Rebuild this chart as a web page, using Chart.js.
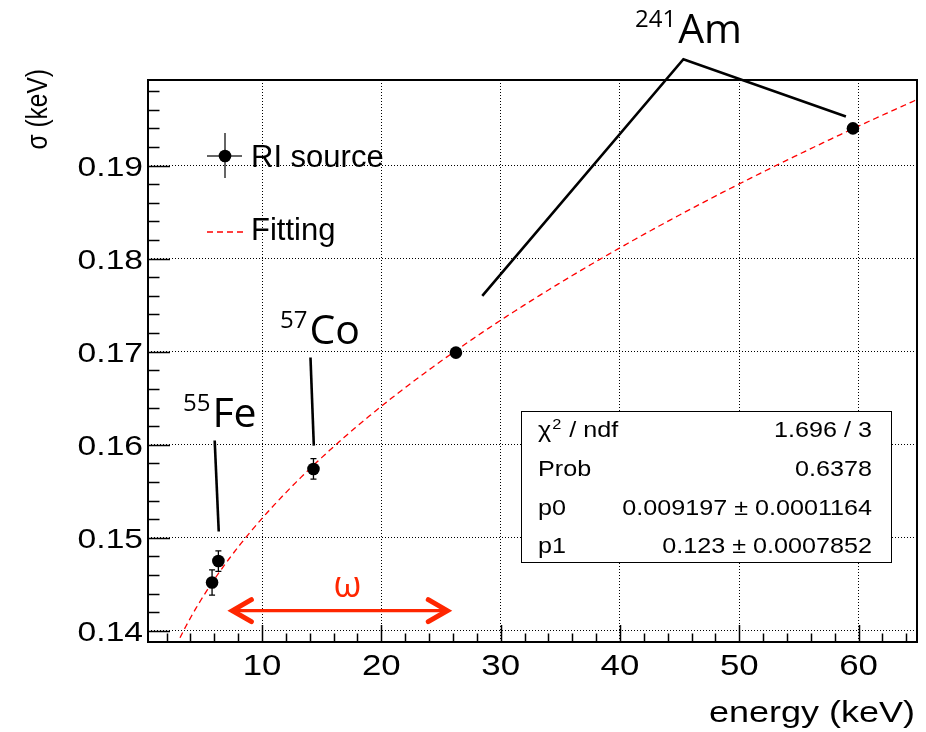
<!DOCTYPE html>
<html>
<head>
<meta charset="utf-8">
<title>Energy resolution</title>
<script src="https://cdn.jsdelivr.net/npm/chart.js@4.4.1/dist/chart.umd.min.js"></script>
<style>
    html, body { margin: 0; padding: 0; background: #ffffff; }
    canvas { display: block; }
</style>
</head>
<body>
<canvas id="resolutionChart" width="926" height="732"></canvas>
<script>
// Energy resolution (sigma) vs. X-ray energy for the RI sources

const energies = [5.81, 6.34, 14.31, 26.25, 59.53];          // keV
const sigmas = [0.1452, 0.1475, 0.1574, 0.1699, 0.1940];     // keV
const sigmaErrors = [0.00136, 0.0011, 0.0011, 0.0003, 0.0003];

const xTicks = [10, 20, 30, 40, 50, 60];
const yTicks = [0.14, 0.15, 0.16, 0.17, 0.18, 0.19];
const xRange = [0.44, 64.9];
const yRange = [0.1388, 0.1992];

// fit result, sigma = p0 * sqrt(E) + p1
const fitP0 = 0.009197;
const fitP0Err = 0.0001164;
const fitP1 = 0.123;
const fitP1Err = 0.0007852;
const fitChi2 = 1.696;
const fitNdf = 3;
const fitProb = 0.6378;

// leader lines for the source labels, in (keV, keV) units
const feLeader = [[6.03, 0.16045], [6.37, 0.15068]];
const coLeader = [[14.06, 0.16938], [14.34, 0.15991]];
const amLeader = [[28.46, 0.17599], [45.32, 0.20144], [58.94, 0.19528]];
const omegaRange = [7.43, 25.61];
const omegaLevel = 0.14217;

const ROOT_FONT = '"Liberation Sans", Arial, Helvetica, sans-serif';
const LABEL_FONT = '"Open Sans", "Noto Sans", sans-serif';
const STRETCH = 1.2;

document.addEventListener('DOMContentLoaded', function() {
    const ctx = document.getElementById('resolutionChart').getContext('2d');

    const fitCurve = [];
    for (let e = xRange[0]; e <= xRange[1] + 0.01; e += 0.2) {
        fitCurve.push({ x: e, y: fitP0 * Math.sqrt(e) + fitP1 });
    }

    const points = energies.map((e, i) => ({ x: e, y: sigmas[i] }));

    // text drawn with a horizontal stretch, returns its width
    function stretchText(c, text, x, y, font, align, sx) {
        c.save();
        c.font = font;
        c.textAlign = align;
        c.textBaseline = 'alphabetic';
        c.translate(x, y);
        c.scale(sx, 1);
        c.fillText(text, 0, 0);
        const w = c.measureText(text).width * sx;
        c.restore();
        return w;
    }

    function polyline(c, scales, pts) {
        c.beginPath();
        pts.forEach((p, i) => {
            const px = scales.x.getPixelForValue(p[0]);
            const py = scales.y.getPixelForValue(p[1]);
            if (i === 0) c.moveTo(px, py); else c.lineTo(px, py);
        });
        c.stroke();
    }

    function isotope(c, mass, symbol, x, baseline) {
        c.save();
        c.fillStyle = '#000';
        c.textBaseline = 'alphabetic';
        c.textAlign = 'left';
        c.font = '24px ' + LABEL_FONT;
        c.fillText(mass, x, baseline - 16);
        const w = c.measureText(mass).width;
        c.font = '41px ' + LABEL_FONT;
        c.fillText(symbol, x + w + 2, baseline);
        c.restore();
    }

    const errorBars = {
        id: 'errorBars',
        afterDatasetsDraw(chart) {
            const c = chart.ctx;
            const { x, y } = chart.scales;
            c.save();
            c.strokeStyle = '#000';
            c.lineWidth = 1.3;
            energies.forEach((e, i) => {
                const px = x.getPixelForValue(e);
                const top = y.getPixelForValue(sigmas[i] + sigmaErrors[i]);
                const bot = y.getPixelForValue(sigmas[i] - sigmaErrors[i]);
                c.beginPath();
                c.moveTo(px, top); c.lineTo(px, bot);
                c.moveTo(px - 3, top); c.lineTo(px + 3, top);
                c.moveTo(px - 3, bot); c.lineTo(px + 3, bot);
                c.stroke();
            });
            c.restore();
        }
    };

    const rootFrame = {
        id: 'rootFrame',
        afterDraw(chart) {
            const c = chart.ctx;
            const area = chart.chartArea;
            const { x, y } = chart.scales;
            c.save();

            // frame
            c.strokeStyle = '#000';
            c.lineWidth = 2;
            c.strokeRect(area.left, area.top, area.right - area.left, area.bottom - area.top);

            // ticks pointing inward, 5 divisions per major step
            c.lineWidth = 1.5;
            c.beginPath();
            const xStep = (xTicks[1] - xTicks[0]) / 5;
            for (let k = 1; k * xStep <= xRange[1]; k++) {
                const v = k * xStep;
                if (v < xRange[0]) continue;
                const px = Math.round(x.getPixelForValue(v)) + 0.5;
                const len = k % 5 === 0 ? 17 : 8.5;
                c.moveTo(px, area.bottom);
                c.lineTo(px, area.bottom - len);
            }
            const yStep = (yTicks[1] - yTicks[0]) / 5;
            for (let k = 0; yTicks[0] + k * yStep <= yRange[1]; k++) {
                const v = yTicks[0] + k * yStep;
                const py = Math.round(y.getPixelForValue(v)) + 0.5;
                const len = k % 5 === 0 ? 22 : 11.5;
                c.moveTo(area.left, py);
                c.lineTo(area.left + len, py);
            }
            c.stroke();

            // tick labels
            c.fillStyle = '#000';
            xTicks.forEach(v => {
                stretchText(c, String(v), x.getPixelForValue(v), 674.5, '29px ' + ROOT_FONT, 'center', STRETCH);
            });
            yTicks.forEach(v => {
                stretchText(c, v.toFixed(2), 143, y.getPixelForValue(v) + 10.5, '28px ' + ROOT_FONT, 'right', STRETCH);
            });

            // axis titles
            stretchText(c, 'energy (keV)', 915, 722, '30px ' + ROOT_FONT, 'right', STRETCH);
            c.save();
            c.translate(47, 69);
            c.scale(1.22, 1);
            c.rotate(-Math.PI / 2);
            c.font = '24.5px ' + ROOT_FONT;
            c.textAlign = 'right';
            c.fillText('σ (keV)', 0, 0);
            c.restore();

            // legend
            c.strokeStyle = '#333';
            c.lineWidth = 1.5;
            c.beginPath();
            c.moveTo(207, 156); c.lineTo(242, 156);
            c.moveTo(225, 133); c.lineTo(225, 178);
            c.stroke();
            c.fillStyle = '#000';
            c.beginPath();
            c.arc(225, 156, 6.3, 0, Math.PI * 2);
            c.fill();
            c.strokeStyle = '#ff0000';
            c.lineWidth = 1.3;
            c.setLineDash([6, 4]);
            c.beginPath();
            c.moveTo(207, 232); c.lineTo(244, 232);
            c.stroke();
            c.setLineDash([]);
            c.font = '31px ' + ROOT_FONT;
            c.textAlign = 'left';
            c.fillText('RI source', 251, 166.5);
            c.fillText('Fitting', 251, 240);

            // fit statistics box
            const bx = 521.5, by = 411.5, bw = 370, bh = 151;
            c.fillStyle = '#fff';
            c.fillRect(bx, by, bw, bh);
            c.strokeStyle = '#000';
            c.lineWidth = 1;
            c.strokeRect(bx, by, bw, bh);
            c.fillStyle = '#000';
            const sf = '21.5px ' + ROOT_FONT;
            const sx = 1.17;
            const rows = [437, 476, 514.5, 553];
            let w = stretchText(c, 'χ', 538, rows[0], sf, 'left', sx);
            w += stretchText(c, '2', 538 + w + 1, rows[0] - 8, '14px ' + ROOT_FONT, 'left', sx);
            stretchText(c, ' / ndf', 538 + w + 2, rows[0], sf, 'left', sx);
            stretchText(c, 'Prob', 538, rows[1], sf, 'left', sx);
            stretchText(c, 'p0', 538, rows[2], sf, 'left', sx);
            stretchText(c, 'p1', 538, rows[3], sf, 'left', sx);
            stretchText(c, fitChi2 + ' / ' + fitNdf, 872, rows[0], sf, 'right', sx);
            stretchText(c, String(fitProb), 872, rows[1], sf, 'right', sx);
            stretchText(c, fitP0 + ' ± ' + fitP0Err, 872, rows[2], sf, 'right', sx);
            stretchText(c, fitP1 + ' ± ' + fitP1Err, 872, rows[3], sf, 'right', sx);

            // source labels with leader lines
            c.strokeStyle = '#000';
            c.lineWidth = 2.6;
            c.lineJoin = 'miter';
            polyline(c, chart.scales, feLeader);
            polyline(c, chart.scales, coLeader);
            polyline(c, chart.scales, amLeader);
            isotope(c, '55', 'Fe', 183, 426.7);
            isotope(c, '57', 'Co', 280, 344);
            isotope(c, '241', 'Am', 635, 43.3);

            // omega range arrow
            const red = '#ff2600';
            const ax0 = x.getPixelForValue(omegaRange[0]);
            const ax1 = x.getPixelForValue(omegaRange[1]);
            const ay = y.getPixelForValue(omegaLevel);
            c.strokeStyle = red;
            c.lineWidth = 3.4;
            c.beginPath();
            c.moveTo(ax0, ay); c.lineTo(ax1, ay);
            c.stroke();
            c.lineWidth = 5;
            c.lineCap = 'round';
            c.beginPath();
            c.moveTo(ax0 + 20, ay - 11); c.lineTo(ax0 + 1, ay); c.lineTo(ax0 + 20, ay + 11);
            c.moveTo(ax1 - 20, ay - 11); c.lineTo(ax1 - 1, ay); c.lineTo(ax1 - 20, ay + 11);
            c.stroke();
            c.fillStyle = red;
            c.font = '36px ' + LABEL_FONT;
            c.textAlign = 'center';
            c.fillText('ω', 347.5, 597);

            c.restore();
        }
    };

    const gridStyle = {
        color: '#000',
        lineWidth: 1,
        drawTicks: false
    };

    new Chart(ctx, {
        type: 'scatter',
        data: {
            datasets: [{
                label: 'RI source',
                data: points,
                showLine: false,
                pointRadius: 6.3,
                pointBackgroundColor: '#000',
                pointBorderColor: '#000',
                pointBorderWidth: 0
            }, {
                label: 'Fitting',
                data: fitCurve,
                showLine: true,
                borderColor: '#ff0000',
                borderWidth: 1.3,
                borderDash: [6, 4],
                pointRadius: 0,
                tension: 0
            }]
        },
        options: {
            responsive: false,
            animation: false,
            events: [],
            layout: {
                padding: { top: 80, right: 9, bottom: 0, left: 0 }
            },
            plugins: {
                legend: { display: false },
                tooltip: { enabled: false }
            },
            scales: {
                x: {
                    type: 'linear',
                    min: xRange[0],
                    max: xRange[1],
                    afterBuildTicks: function(scale) {
                        scale.ticks = xTicks.map(v => ({ value: v }));
                    },
                    afterFit: function(scale) {
                        scale.height = 90;
                    },
                    ticks: { display: false },
                    grid: gridStyle,
                    border: { display: false, dash: [1, 2] }
                },
                y: {
                    type: 'linear',
                    min: yRange[0],
                    max: yRange[1],
                    afterBuildTicks: function(scale) {
                        scale.ticks = yTicks.map(v => ({ value: v }));
                    },
                    afterFit: function(scale) {
                        scale.width = 148;
                    },
                    ticks: { display: false },
                    grid: gridStyle,
                    border: { display: false, dash: [1, 2] }
                }
            }
        },
        plugins: [errorBars, rootFrame]
    });
});
</script>
</body>
</html>
